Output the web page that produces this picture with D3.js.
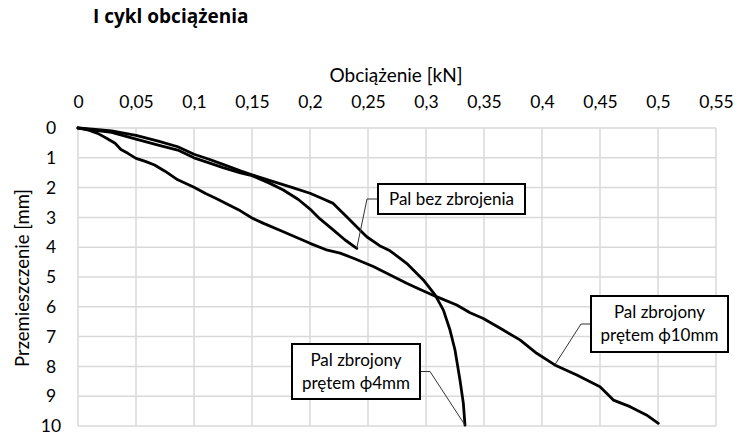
<!DOCTYPE html>
<meta charset="utf-8">
<head>
    <title>I cykl obciazenia</title>
    <style>
        body { margin: 0; background: #fff; }
        text { font-family: Lato, "Open Sans", sans-serif; fill: #000; }
    </style>
</head>
<body>
<script src="https://d3js.org/d3.v7.min.js"></script>
<svg id="chart" width="736" height="437"></svg>

<script>
    // load [kN] vs displacement [mm]
    var palBezZbrojenia = [
        [0, 0], [0.015, 0.08], [0.029, 0.15], [0.05, 0.37], [0.07, 0.58], [0.086, 0.74],
        [0.1, 1.0], [0.113, 1.17], [0.125, 1.33], [0.14, 1.51], [0.15, 1.6], [0.165, 1.85],
        [0.177, 2.08], [0.19, 2.4], [0.2, 2.72], [0.2086, 3.05], [0.22, 3.42], [0.23, 3.75],
        [0.2403, 4.04]
    ];
    var palFi4 = [
        [0, 0], [0.015, 0.05], [0.029, 0.1], [0.05, 0.25], [0.07, 0.45], [0.086, 0.63],
        [0.1, 0.88], [0.113, 1.05], [0.125, 1.22], [0.14, 1.44], [0.15, 1.57], [0.1684, 1.8],
        [0.185, 2.0], [0.2, 2.19], [0.21, 2.36], [0.22, 2.53], [0.2316, 2.98], [0.243, 3.42],
        [0.2489, 3.65], [0.26, 3.95], [0.269, 4.12], [0.2833, 4.54], [0.2977, 5.1], [0.3078, 5.6],
        [0.315, 6.11], [0.3207, 6.78], [0.325, 7.45], [0.3293, 8.46], [0.3322, 9.24], [0.3336, 9.97]
    ];
    var palFi10 = [
        [0, 0], [0.008, 0.06], [0.017, 0.18], [0.025, 0.35], [0.032, 0.51], [0.037, 0.72],
        [0.043, 0.85], [0.05, 1.02], [0.058, 1.12], [0.066, 1.24], [0.075, 1.45], [0.086, 1.74],
        [0.1, 1.99], [0.11, 2.2], [0.12, 2.38], [0.131, 2.6], [0.14, 2.78], [0.15, 3.02],
        [0.16, 3.2], [0.175, 3.45], [0.19, 3.7], [0.2, 3.87], [0.215, 4.1], [0.226, 4.2],
        [0.2375, 4.37], [0.2546, 4.65], [0.27, 4.95], [0.2833, 5.21], [0.295, 5.42], [0.309, 5.66],
        [0.3265, 5.94], [0.338, 6.2], [0.3494, 6.39], [0.3666, 6.78], [0.381, 7.11], [0.3954, 7.56],
        [0.411, 7.95], [0.43, 8.29], [0.45, 8.68], [0.457, 8.95], [0.4615, 9.13], [0.4759, 9.35],
        [0.49, 9.63], [0.5003, 9.91]
    ];

    var xTicks = [0, 0.05, 0.1, 0.15, 0.2, 0.25, 0.3, 0.35, 0.4, 0.45, 0.5, 0.55];
    var yTicks = [0, 1, 2, 3, 4, 5, 6, 7, 8, 9, 10];

    var labelBez = ["Pal bez zbrojenia"];
    var labelFi4 = ["Pal zbrojony", "prętem ϕ4mm"];
    var labelFi10 = ["Pal zbrojony", "prętem ϕ10mm"];

    var svg = d3.select("#chart"),
        pLeft = 78, pRight = 716, pTop = 128, pBottom = 426;

    var x = d3.scaleLinear().domain([0, 0.55]).range([pLeft, pRight]),
        y = d3.scaleLinear().domain([0, 10]).range([pTop, pBottom]);

    var pl = d3.formatLocale({decimal: ",", thousands: " ", grouping: [3], currency: ["", ""]}),
        fmt = pl.format("~g");

    // grid
    svg.append("g").selectAll("line").data(xTicks).enter().append("line")
        .attr("x1", d => x(d)).attr("x2", d => x(d))
        .attr("y1", pTop).attr("y2", pBottom)
        .attr("stroke", "#d9d9d9").attr("stroke-width", 1.5);
    svg.append("g").selectAll("line").data(yTicks).enter().append("line")
        .attr("x1", pLeft).attr("x2", pRight)
        .attr("y1", d => y(d)).attr("y2", d => y(d))
        .attr("stroke", "#d9d9d9").attr("stroke-width", 1.5);

    // axes (labels only)
    var xAxis = svg.append("g").attr("transform", "translate(0,108)")
        .call(d3.axisTop(x).tickValues(xTicks).tickFormat(fmt).tickSize(0).tickPadding(0));
    var yAxis = svg.append("g").attr("transform", "translate(51,0)")
        .call(d3.axisLeft(y).tickValues(yTicks).tickFormat(fmt).tickSize(0).tickPadding(0));
    [xAxis, yAxis].forEach(function (a) {
        a.select(".domain").remove();
        a.selectAll("text").style("font-family", "Lato, sans-serif").style("font-size", "17.5px")
            .attr("fill", "#000");
    });
    yAxis.selectAll("text").attr("text-anchor", "middle").attr("x", 0);

    svg.append("text").attr("x", 396).attr("y", 82).attr("text-anchor", "middle")
        .style("font-size", "19px").text("Obciążenie [kN]");
    svg.append("text").attr("transform", "translate(29,278) rotate(-90)").attr("text-anchor", "middle")
        .style("font-size", "18.5px").text("Przemieszczenie [mm]");
    svg.append("text").attr("x", 93).attr("y", 23).style("font-size", "19px")
        .style("font-family", "'Open Sans', sans-serif")
        .style("font-weight", "bold").text("I cykl obciążenia");

    // curves
    var line = d3.line().x(d => x(d[0])).y(d => y(d[1]));
    [palBezZbrojenia, palFi4, palFi10].forEach(function (s) {
        svg.append("path").datum(s).attr("d", line)
            .attr("fill", "none").attr("stroke", "#000").attr("stroke-width", 2.8)
            .attr("stroke-linejoin", "round").attr("stroke-linecap", "round");
    });

    // callouts
    function callout(lines, bx, by, bw, bh, side, elbow, pt) {
        var g = svg.append("g");
        var ay = by + bh / 2,
            ax = side === "left" ? bx : bx + bw;
        g.append("polyline")
            .attr("points", [[ax, ay], [elbow, ay], [x(pt[0]), y(pt[1])]].join(" "))
            .attr("fill", "none").attr("stroke", "#333").attr("stroke-width", 1);
        g.append("rect").attr("x", bx).attr("y", by).attr("width", bw).attr("height", bh)
            .attr("fill", "#fff").attr("stroke", "#000").attr("stroke-width", 2);
        var lh = 23, y0 = by + bh / 2 - (lines.length - 1) * lh / 2;
        lines.forEach(function (t, i) {
            g.append("text").attr("x", bx + bw / 2).attr("y", y0 + i * lh).attr("dy", "0.35em")
                .attr("text-anchor", "middle").style("font-size", "17px").text(t);
        });
    }
    callout(labelBez, 378, 184, 147, 30, "left", 367, palBezZbrojenia[palBezZbrojenia.length - 1]);
    callout(labelFi4, 292, 344, 128, 55, "right", 430, palFi4[palFi4.length - 1]);
    callout(labelFi10, 591, 296, 137, 56, "left", 581, palFi10.find(d => d[0] === 0.411));
</script>

</body>
